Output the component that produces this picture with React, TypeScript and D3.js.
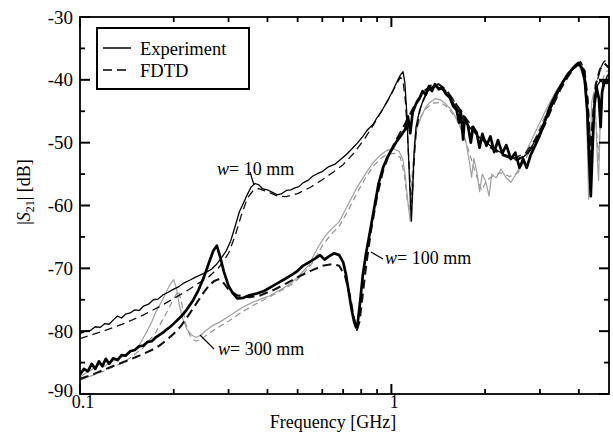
import * as d3 from "d3";

// frequency in GHz, |S21| in dB
const w10Exp: [number, number][] = [
  [0.100,-80.4],[0.104,-80.0],[0.108,-79.9],[0.112,-79.3],[0.116,-79.4],[0.120,-78.8],[0.124,-78.9],[0.128,-78.2],
  [0.132,-77.6],[0.136,-77.9],[0.140,-77.3],[0.145,-77.1],[0.150,-76.6],[0.155,-76.7],[0.160,-76.0],[0.166,-75.7],
  [0.172,-75.0],[0.178,-74.9],[0.185,-74.2],[0.192,-73.8],[0.200,-73.3],[0.208,-72.9],[0.216,-72.3],[0.225,-71.9],
  [0.235,-71.4],[0.245,-71.0],[0.255,-70.6],[0.265,-70.1],[0.275,-69.3],[0.285,-68.3],[0.295,-67.2],[0.305,-65.6],
  [0.315,-63.3],[0.325,-61.0],[0.335,-59.6],[0.345,-58.2],[0.355,-57.0],[0.365,-56.5],[0.375,-56.7],[0.385,-57.3],
  [0.40,-57.5],[0.415,-57.9],[0.43,-58.3],[0.445,-58.1],[0.46,-57.6],[0.475,-57.5],[0.49,-57.2],[0.505,-57.0],
  [0.52,-56.4],[0.54,-56.0],[0.56,-55.3],[0.58,-54.9],[0.60,-54.6],[0.63,-53.8],[0.66,-53.4],[0.69,-52.6],
  [0.72,-51.8],[0.75,-50.9],[0.78,-50.0],[0.81,-49.0],[0.84,-47.9],[0.87,-47.2],[0.90,-46.0],[0.93,-45.0],
  [0.96,-43.8],[0.99,-42.6],[1.02,-41.3],[1.05,-40.0],[1.07,-39.2],[1.09,-38.7],[1.105,-40.5],[1.12,-45.0],
  [1.135,-52.0],[1.15,-59.0],[1.16,-62.5],[1.17,-58.0],[1.185,-51.0],[1.20,-47.5],[1.23,-45.0],[1.27,-43.0],
  [1.31,-41.8],[1.36,-41.0],[1.42,-41.2],[1.48,-41.8],[1.55,-43.0],[1.62,-44.5],[1.70,-46.2],[1.80,-47.8],
  [1.90,-49.0],[2.00,-49.8],[2.12,-50.8],[2.25,-51.6],[2.40,-52.3],[2.55,-52.8],[2.70,-52.0],[2.85,-50.3],
  [3.00,-48.3],[3.15,-46.2],[3.30,-43.9],[3.45,-41.8],[3.60,-40.0],[3.75,-38.8],[3.90,-37.9],[4.02,-37.5],
  [4.12,-38.5],[4.22,-41.5],[4.30,-48.0],[4.36,-54.0],[4.42,-50.0],[4.50,-43.5],[4.60,-40.8],[4.72,-40.0],
  [4.82,-41.0],[4.92,-39.5],[5.00,-39.0],
];

const w10Fdtd: [number, number][] = [
  [0.100,-81.2],[0.12,-79.9],[0.14,-78.7],[0.16,-77.4],[0.18,-76.1],[0.20,-74.8],[0.22,-73.6],[0.24,-72.4],
  [0.26,-71.3],[0.28,-69.8],[0.30,-67.6],[0.315,-64.8],[0.33,-61.5],[0.345,-58.8],[0.36,-57.6],[0.375,-57.3],
  [0.40,-57.8],[0.43,-58.5],[0.46,-58.6],[0.50,-58.1],[0.55,-57.1],[0.60,-55.9],[0.65,-54.7],[0.70,-53.5],
  [0.76,-51.6],[0.82,-49.4],[0.88,-47.0],[0.94,-44.6],[1.00,-42.3],[1.04,-40.6],[1.07,-39.6],[1.09,-40.2],
  [1.11,-43.5],[1.13,-50.0],[1.15,-57.0],[1.165,-59.5],[1.18,-54.0],[1.20,-48.5],[1.24,-44.5],[1.30,-42.0],
  [1.38,-40.9],[1.46,-41.2],[1.55,-42.6],[1.65,-44.5],[1.78,-46.8],[1.92,-48.8],[2.10,-50.6],[2.30,-51.9],
  [2.50,-52.4],[2.70,-51.6],[2.90,-49.4],[3.10,-46.6],[3.30,-43.7],[3.50,-41.1],[3.70,-39.1],[3.90,-37.7],
  [4.05,-37.1],[4.18,-38.4],[4.28,-43.0],[4.36,-50.5],[4.44,-47.0],[4.54,-41.5],[4.66,-38.5],[4.80,-37.2],
  [4.90,-36.8],[5.00,-37.4],
];

const w100Exp: [number, number][] = [
  [0.100,-86.9],[0.103,-86.0],[0.106,-86.4],[0.109,-85.2],[0.112,-86.0],[0.115,-84.8],[0.118,-85.6],[0.121,-84.4],
  [0.124,-85.2],[0.128,-84.3],[0.132,-84.6],[0.136,-83.8],[0.14,-83.9],[0.145,-83.2],[0.15,-83.0],[0.155,-82.4],
  [0.16,-82.3],[0.165,-81.7],[0.17,-81.6],[0.175,-81.0],[0.18,-80.6],[0.185,-80.2],[0.19,-79.7],[0.195,-79.3],
  [0.20,-78.8],[0.21,-77.8],[0.22,-76.6],[0.23,-75.2],[0.24,-73.5],[0.25,-71.4],[0.26,-69.0],[0.268,-67.2],
  [0.275,-66.4],[0.282,-68.2],[0.29,-70.6],[0.30,-72.8],[0.31,-74.0],[0.32,-74.8],[0.335,-74.7],[0.35,-74.3],
  [0.37,-74.0],[0.39,-73.6],[0.41,-73.0],[0.43,-72.4],[0.455,-71.7],[0.48,-71.0],[0.50,-70.4],[0.52,-69.6],
  [0.545,-69.0],[0.57,-68.4],[0.59,-67.9],[0.61,-68.6],[0.63,-68.1],[0.655,-67.6],[0.68,-67.9],[0.70,-69.0],
  [0.715,-71.0],[0.73,-73.8],[0.745,-76.5],[0.76,-78.6],[0.77,-79.4],[0.78,-78.6],[0.795,-75.0],[0.81,-71.0],
  [0.83,-67.5],[0.855,-64.0],[0.88,-60.5],[0.91,-56.5],[0.94,-54.0],[0.97,-52.4],[1.00,-51.2],[1.04,-49.8],
  [1.08,-48.7],[1.11,-47.8],[1.13,-45.8],[1.15,-48.5],[1.17,-45.2],[1.20,-43.8],[1.23,-43.0],[1.26,-41.8],
  [1.29,-42.4],[1.32,-41.0],[1.35,-41.8],[1.38,-40.7],[1.42,-41.5],[1.46,-41.3],[1.50,-42.3],[1.54,-42.8],
  [1.58,-44.2],[1.62,-44.8],[1.65,-46.8],[1.67,-44.9],[1.70,-49.5],[1.72,-46.0],[1.76,-47.2],[1.80,-50.0],
  [1.83,-47.5],[1.88,-48.5],[1.92,-50.8],[1.96,-48.6],[2.02,-50.5],[2.08,-49.0],[2.14,-51.5],[2.20,-49.6],
  [2.27,-51.7],[2.34,-50.4],[2.42,-52.6],[2.50,-51.6],[2.58,-54.0],[2.65,-52.6],[2.72,-54.0],[2.80,-52.0],
  [2.90,-50.4],[3.00,-48.8],[3.12,-46.4],[3.25,-44.0],[3.40,-42.0],[3.55,-40.4],[3.70,-39.0],[3.85,-38.0],
  [3.98,-37.3],[4.08,-38.0],[4.18,-40.0],[4.26,-45.0],[4.32,-53.0],[4.37,-58.5],[4.42,-52.0],[4.48,-44.5],
  [4.56,-41.2],[4.64,-43.0],[4.70,-47.5],[4.75,-42.0],[4.83,-40.2],[4.92,-40.5],[5.00,-40.0],
];

const w100Fdtd: [number, number][] = [
  [0.100,-87.6],[0.11,-86.9],[0.12,-86.1],[0.13,-85.4],[0.14,-84.8],[0.15,-84.2],[0.16,-83.6],[0.17,-83.0],
  [0.18,-82.3],[0.19,-81.4],[0.20,-80.4],[0.21,-79.3],[0.22,-77.9],[0.23,-76.5],[0.24,-75.1],[0.25,-73.8],
  [0.26,-72.7],[0.27,-72.0],[0.28,-71.7],[0.29,-72.4],[0.30,-73.4],[0.32,-74.3],[0.35,-74.6],[0.38,-74.3],
  [0.42,-73.4],[0.46,-72.4],[0.50,-71.4],[0.55,-70.4],[0.60,-69.6],[0.65,-69.3],[0.68,-69.6],[0.71,-71.2],
  [0.735,-74.2],[0.755,-77.5],[0.775,-79.8],[0.79,-78.5],[0.81,-74.0],[0.83,-69.5],[0.86,-64.0],[0.90,-58.5],
  [0.94,-54.5],[0.98,-52.0],[1.03,-49.8],[1.08,-48.0],[1.14,-45.8],[1.20,-43.6],[1.27,-41.9],[1.34,-40.9],
  [1.42,-40.7],[1.50,-41.6],[1.60,-43.6],[1.75,-46.6],[1.90,-48.9],[2.10,-50.9],[2.30,-52.1],[2.50,-52.7],
  [2.70,-52.1],[2.90,-50.1],[3.10,-47.3],[3.30,-44.1],[3.50,-41.4],[3.70,-39.4],[3.90,-37.9],[4.05,-37.3],
  [4.17,-38.6],[4.27,-44.0],[4.35,-52.0],[4.43,-46.5],[4.53,-40.8],[4.68,-38.3],[4.84,-37.4],[5.00,-38.1],
];

const w300Exp: [number, number][] = [
  [0.100,-87.3],[0.105,-86.6],[0.11,-86.0],[0.115,-85.3],[0.12,-85.6],[0.125,-84.9],[0.13,-84.6],[0.135,-84.2],
  [0.14,-83.8],[0.15,-82.8],[0.155,-82.2],[0.16,-81.0],[0.165,-79.8],[0.17,-78.5],[0.175,-77.0],[0.18,-75.9],
  [0.185,-74.8],[0.19,-73.6],[0.195,-72.5],[0.20,-71.8],[0.204,-73.2],[0.208,-75.6],[0.213,-77.8],[0.22,-79.6],
  [0.228,-80.6],[0.236,-81.0],[0.245,-80.6],[0.255,-79.8],[0.265,-79.2],[0.28,-78.6],[0.295,-77.9],[0.31,-77.2],
  [0.33,-76.3],[0.355,-75.5],[0.38,-74.9],[0.405,-74.4],[0.43,-73.7],[0.455,-73.0],[0.48,-72.2],[0.50,-71.4],
  [0.52,-70.5],[0.545,-69.4],[0.565,-67.8],[0.585,-66.4],[0.61,-65.0],[0.64,-63.8],[0.68,-62.6],[0.72,-60.2],
  [0.77,-57.4],[0.82,-55.2],[0.87,-53.3],[0.92,-52.0],[0.97,-51.2],[1.02,-51.0],[1.06,-51.4],[1.09,-52.8],
  [1.11,-55.5],[1.13,-59.5],[1.15,-62.5],[1.165,-58.0],[1.18,-52.0],[1.21,-47.5],[1.25,-45.8],[1.29,-44.3],
  [1.33,-43.6],[1.38,-43.0],[1.44,-43.2],[1.50,-43.9],[1.56,-44.8],[1.62,-46.2],[1.68,-48.0],[1.74,-50.2],
  [1.78,-53.0],[1.81,-55.5],[1.84,-52.5],[1.88,-54.5],[1.92,-57.8],[1.96,-55.0],[2.01,-56.2],[2.06,-58.5],
  [2.10,-55.0],[2.17,-55.6],[2.25,-54.2],[2.33,-55.5],[2.42,-56.3],[2.50,-55.2],[2.58,-54.0],[2.66,-52.4],
  [2.78,-50.2],[2.92,-48.0],[3.08,-45.6],[3.25,-43.3],[3.42,-41.4],[3.60,-39.8],[3.78,-38.5],[3.95,-37.7],
  [4.08,-38.2],[4.17,-40.5],[4.23,-45.0],[4.27,-52.0],[4.30,-59.0],[4.34,-52.0],[4.40,-43.5],[4.47,-42.0],
  [4.54,-46.5],[4.59,-53.0],[4.63,-56.0],[4.67,-49.0],[4.73,-42.5],[4.82,-40.2],[4.92,-40.0],[5.00,-39.4],
];

const w300Fdtd: [number, number][] = [
  [0.100,-87.8],[0.12,-86.3],[0.14,-84.8],[0.16,-82.6],[0.175,-80.2],[0.19,-77.0],[0.20,-74.8],[0.207,-73.6],
  [0.212,-75.5],[0.218,-78.6],[0.226,-80.8],[0.235,-81.6],[0.245,-81.3],[0.26,-80.3],[0.28,-79.3],[0.30,-78.4],
  [0.33,-77.0],[0.36,-75.9],[0.40,-74.7],[0.44,-73.6],[0.48,-72.5],[0.52,-71.0],[0.56,-69.0],[0.60,-66.4],
  [0.64,-64.6],[0.68,-63.3],[0.73,-60.6],[0.78,-57.8],[0.83,-55.4],[0.88,-53.6],[0.93,-52.4],[0.98,-51.8],
  [1.03,-51.7],[1.07,-52.4],[1.10,-55.0],[1.125,-59.2],[1.145,-60.8],[1.165,-55.5],[1.19,-49.0],[1.23,-46.2],
  [1.29,-44.6],[1.36,-43.7],[1.44,-43.6],[1.52,-44.4],[1.62,-46.3],[1.72,-49.2],[1.80,-52.4],[1.88,-55.4],
  [1.95,-57.6],[2.02,-56.0],[2.12,-55.3],[2.25,-54.8],[2.40,-55.4],[2.55,-54.8],[2.70,-52.6],[2.88,-49.6],
  [3.06,-46.6],[3.25,-43.6],[3.45,-41.1],[3.65,-39.2],[3.85,-38.1],[4.02,-37.9],[4.15,-39.6],[4.24,-45.0],
  [4.31,-53.5],[4.37,-55.5],[4.43,-48.0],[4.50,-44.0],[4.57,-48.5],[4.63,-53.0],[4.70,-45.0],[4.80,-39.5],
  [4.90,-38.6],[5.00,-38.6],
];

const yTickLabels = [-30, -40, -50, -60, -70, -80, -90];
const yMinorTicks = [-35, -45, -55, -65, -75, -85];
const xTickLabels = [0.1, 1];
const xMinorTicks = [0.2, 0.3, 0.4, 0.5, 0.6, 0.7, 0.8, 0.9, 2, 3, 4];

const W = 613;
const H = 438;
const left = 80, right = 609, top = 17, bottom = 394;
const font = "'Liberation Serif', 'Times New Roman', serif";

export default function App() {
  const x = d3.scaleLog().domain([0.1, 5]).range([left, right]);
  const y = d3.scaleLinear().domain([-90, -30]).range([bottom, top]);
  const line = d3
    .line<[number, number]>()
    .x((d) => x(d[0]))
    .y((d) => y(d[1]));

  const series = [
    { data: w300Fdtd, stroke: "#8c8c8c", width: 1.1, dash: "6 4" },
    { data: w300Exp, stroke: "#a0a0a0", width: 1.2, dash: undefined },
    { data: w10Fdtd, stroke: "#111", width: 1.3, dash: "8 5" },
    { data: w10Exp, stroke: "#000", width: 1.3, dash: undefined },
    { data: w100Fdtd, stroke: "#111", width: 2.1, dash: "9 5" },
    { data: w100Exp, stroke: "#000", width: 2.7, dash: undefined },
  ];

  return (
    <svg
      width={W}
      height={H}
      style={{ position: "absolute", left: 0, top: 0, background: "#fff" }}
      fontFamily={font}
    >
      <defs>
        <clipPath id="plot">
          <rect x={left} y={top} width={right - left} height={bottom - top} />
        </clipPath>
      </defs>

      <g clipPath="url(#plot)">
        {series.map((s, i) => (
          <path
            key={i}
            d={line(s.data) ?? ""}
            fill="none"
            stroke={s.stroke}
            strokeWidth={s.width}
            strokeDasharray={s.dash}
            strokeLinejoin="round"
          />
        ))}
      </g>

      {/* frame */}
      <rect x={left} y={top} width={right - left} height={bottom - top} fill="none" stroke="#000" strokeWidth={1.8} />

      {/* y ticks, left and right, pointing inward */}
      {yTickLabels.map((v) => (
        <g key={"y" + v}>
          <line x1={left} x2={left + 10} y1={y(v)} y2={y(v)} stroke="#000" strokeWidth={2} />
          <line x1={right} x2={right - 10} y1={y(v)} y2={y(v)} stroke="#000" strokeWidth={2} />
          <text
            x={left - 7}
            y={y(v) - (v === -90 ? 4 : 0)}
            textAnchor="end"
            dominantBaseline="central"
            fontSize={19}
          >
            {v}
          </text>
        </g>
      ))}
      {yMinorTicks.map((v) => (
        <g key={"ym" + v}>
          <line x1={left} x2={left + 5} y1={y(v)} y2={y(v)} stroke="#000" strokeWidth={1.8} />
          <line x1={right} x2={right - 5} y1={y(v)} y2={y(v)} stroke="#000" strokeWidth={1.8} />
        </g>
      ))}

      {/* x ticks, bottom and top */}
      {xTickLabels.map((v) => (
        <g key={"x" + v}>
          <line x1={x(v)} x2={x(v)} y1={bottom} y2={bottom - 10} stroke="#000" strokeWidth={2} />
          <line x1={x(v)} x2={x(v)} y1={top} y2={top + 10} stroke="#000" strokeWidth={2} />
          <text x={x(v) + 3} y={408} textAnchor="middle" fontSize={18}>
            {v}
          </text>
        </g>
      ))}
      {xMinorTicks.map((v) => (
        <g key={"xm" + v}>
          <line x1={x(v)} x2={x(v)} y1={bottom} y2={bottom - 5} stroke="#000" strokeWidth={1.8} />
          <line x1={x(v)} x2={x(v)} y1={top} y2={top + 5} stroke="#000" strokeWidth={1.8} />
        </g>
      ))}

      <text x={333} y={428} textAnchor="middle" fontSize={18}>
        Frequency [GHz]
      </text>
      <text transform="translate(30,192) rotate(-90)" textAnchor="middle" fontSize={18}>
        |<tspan fontStyle="italic">S</tspan>
        <tspan fontSize={12} dy={4}>21</tspan>
        <tspan dy={-4}>| [dB]</tspan>
      </text>

      {/* legend */}
      <rect x={97} y={28} width={152} height={61} fill="#fff" stroke="#000" strokeWidth={2} />
      <line x1={103} x2={131} y1={48} y2={48} stroke="#000" strokeWidth={1.5} />
      <text x={140} y={55} fontSize={18.5}>Experiment</text>
      <line x1={103} x2={131} y1={70} y2={70} stroke="#000" strokeWidth={1.5} strokeDasharray="9 5" />
      <text x={140} y={77} fontSize={18.5}>FDTD</text>

      {/* annotations */}
      <line x1={250} y1={172} x2={254} y2={185} stroke="#000" strokeWidth={1.2} />
      <text x={217} y={175} fontSize={18}>
        <tspan fontStyle="italic">w</tspan>= 10 mm
      </text>
      <line x1={371} y1={252} x2={383} y2={259} stroke="#000" strokeWidth={1.2} />
      <text x={385} y={264} fontSize={18}>
        <tspan fontStyle="italic">w</tspan>= 100 mm
      </text>
      <line x1={200} y1={335} x2={214} y2={349} stroke="#000" strokeWidth={1.2} />
      <text x={218} y={355} fontSize={18}>
        <tspan fontStyle="italic">w</tspan>= 300 mm
      </text>
    </svg>
  );
}
